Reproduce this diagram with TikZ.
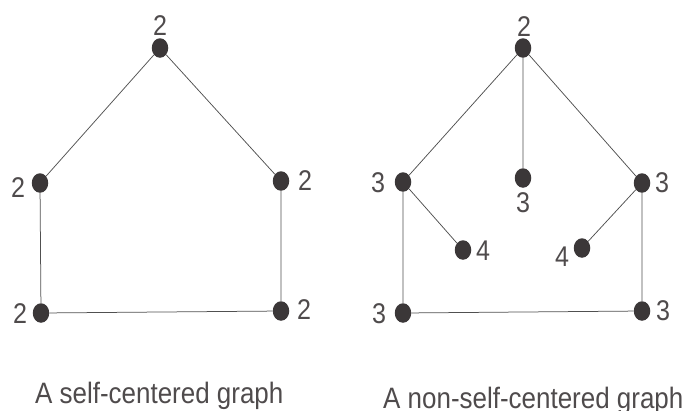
\documentclass[tikz,border=0pt]{standalone}
\usepackage{fontspec}
\setmainfont{Liberation Sans}
\newfontfamily\narrowsans[FakeStretch=0.88]{Liberation Sans}
\usetikzlibrary{shapes.geometric}
\definecolor{vtxdark}{HTML}{3B3738}
\definecolor{edgeink}{HTML}{505050}
\tikzset{
  vtx/.style={ellipse, fill=vtxdark, inner sep=0pt, minimum width=16.5pt, minimum height=19.5pt},
  ecc/.style={inner sep=0pt, font=\narrowsans\fontsize{28.5}{32}\selectfont, text=vtxdark!90},
  caption/.style={inner sep=0pt, font=\narrowsans\fontsize{29.5}{33}\selectfont, text=vtxdark!90},
  edge/.style={draw=edgeink, line width=0.75pt},
}
\begin{document}
\begin{tikzpicture}[x=1pt,y=-1pt]
  \useasboundingbox (0,0) rectangle (687,410);
  % left: the 5-cycle, every eccentricity 2
  \node[vtx] (a1) at (160,48) {};
  \node[vtx] (a2) at (40,183) {};
  \node[vtx] (a3) at (281,181) {};
  \node[vtx] (a4) at (41,313) {};
  \node[vtx] (a5) at (281,311) {};
  \draw[edge] (a1) -- (a2) (a1) -- (a3) (a2) -- (a4) (a3) -- (a5) (a4) -- (a5);
  \node[ecc] (ea1) at (160,26) {2};
  \node[ecc] (ea2) at (18,188) {2};
  \node[ecc] (ea3) at (305,181) {2};
  \node[ecc] (ea4) at (20,314) {2};
  \node[ecc] (ea5) at (304,310) {2};
  % right: cycle with three pendant vertices
  \node[vtx] (b1) at (523,48) {};
  \node[vtx] (b2) at (403,182) {};
  \node[vtx] (b3) at (523,178) {};
  \node[vtx] (b4) at (642,183) {};
  \node[vtx] (b5) at (463,250) {};
  \node[vtx] (b6) at (582,248) {};
  \node[vtx] (b7) at (403,313) {};
  \node[vtx] (b8) at (642,311) {};
  \draw[edge] (b1) -- (b2) (b1) -- (b3) (b1) -- (b4) (b2) -- (b5) (b4) -- (b6)
    (b2) -- (b7) (b4) -- (b8) (b7) -- (b8);
  \node[ecc] (eb1) at (524,27) {2};
  \node[ecc] (eb2) at (378,183) {3};
  \node[ecc] (eb3) at (523,203) {3};
  \node[ecc] (eb4) at (662,183) {3};
  \node[ecc] (eb5) at (483,251) {4};
  \node[ecc] (eb6) at (562,257) {4};
  \node[ecc] (eb7) at (379,314) {3};
  \node[ecc] (eb8) at (663,311) {3};
  % captions
  \node[caption, anchor=base west] (capl) at (35,403) {A self-centered graph};
  \node[caption, anchor=base west] (capr) at (383,408) {A non-self-centered graph};
\end{tikzpicture}
\end{document}
